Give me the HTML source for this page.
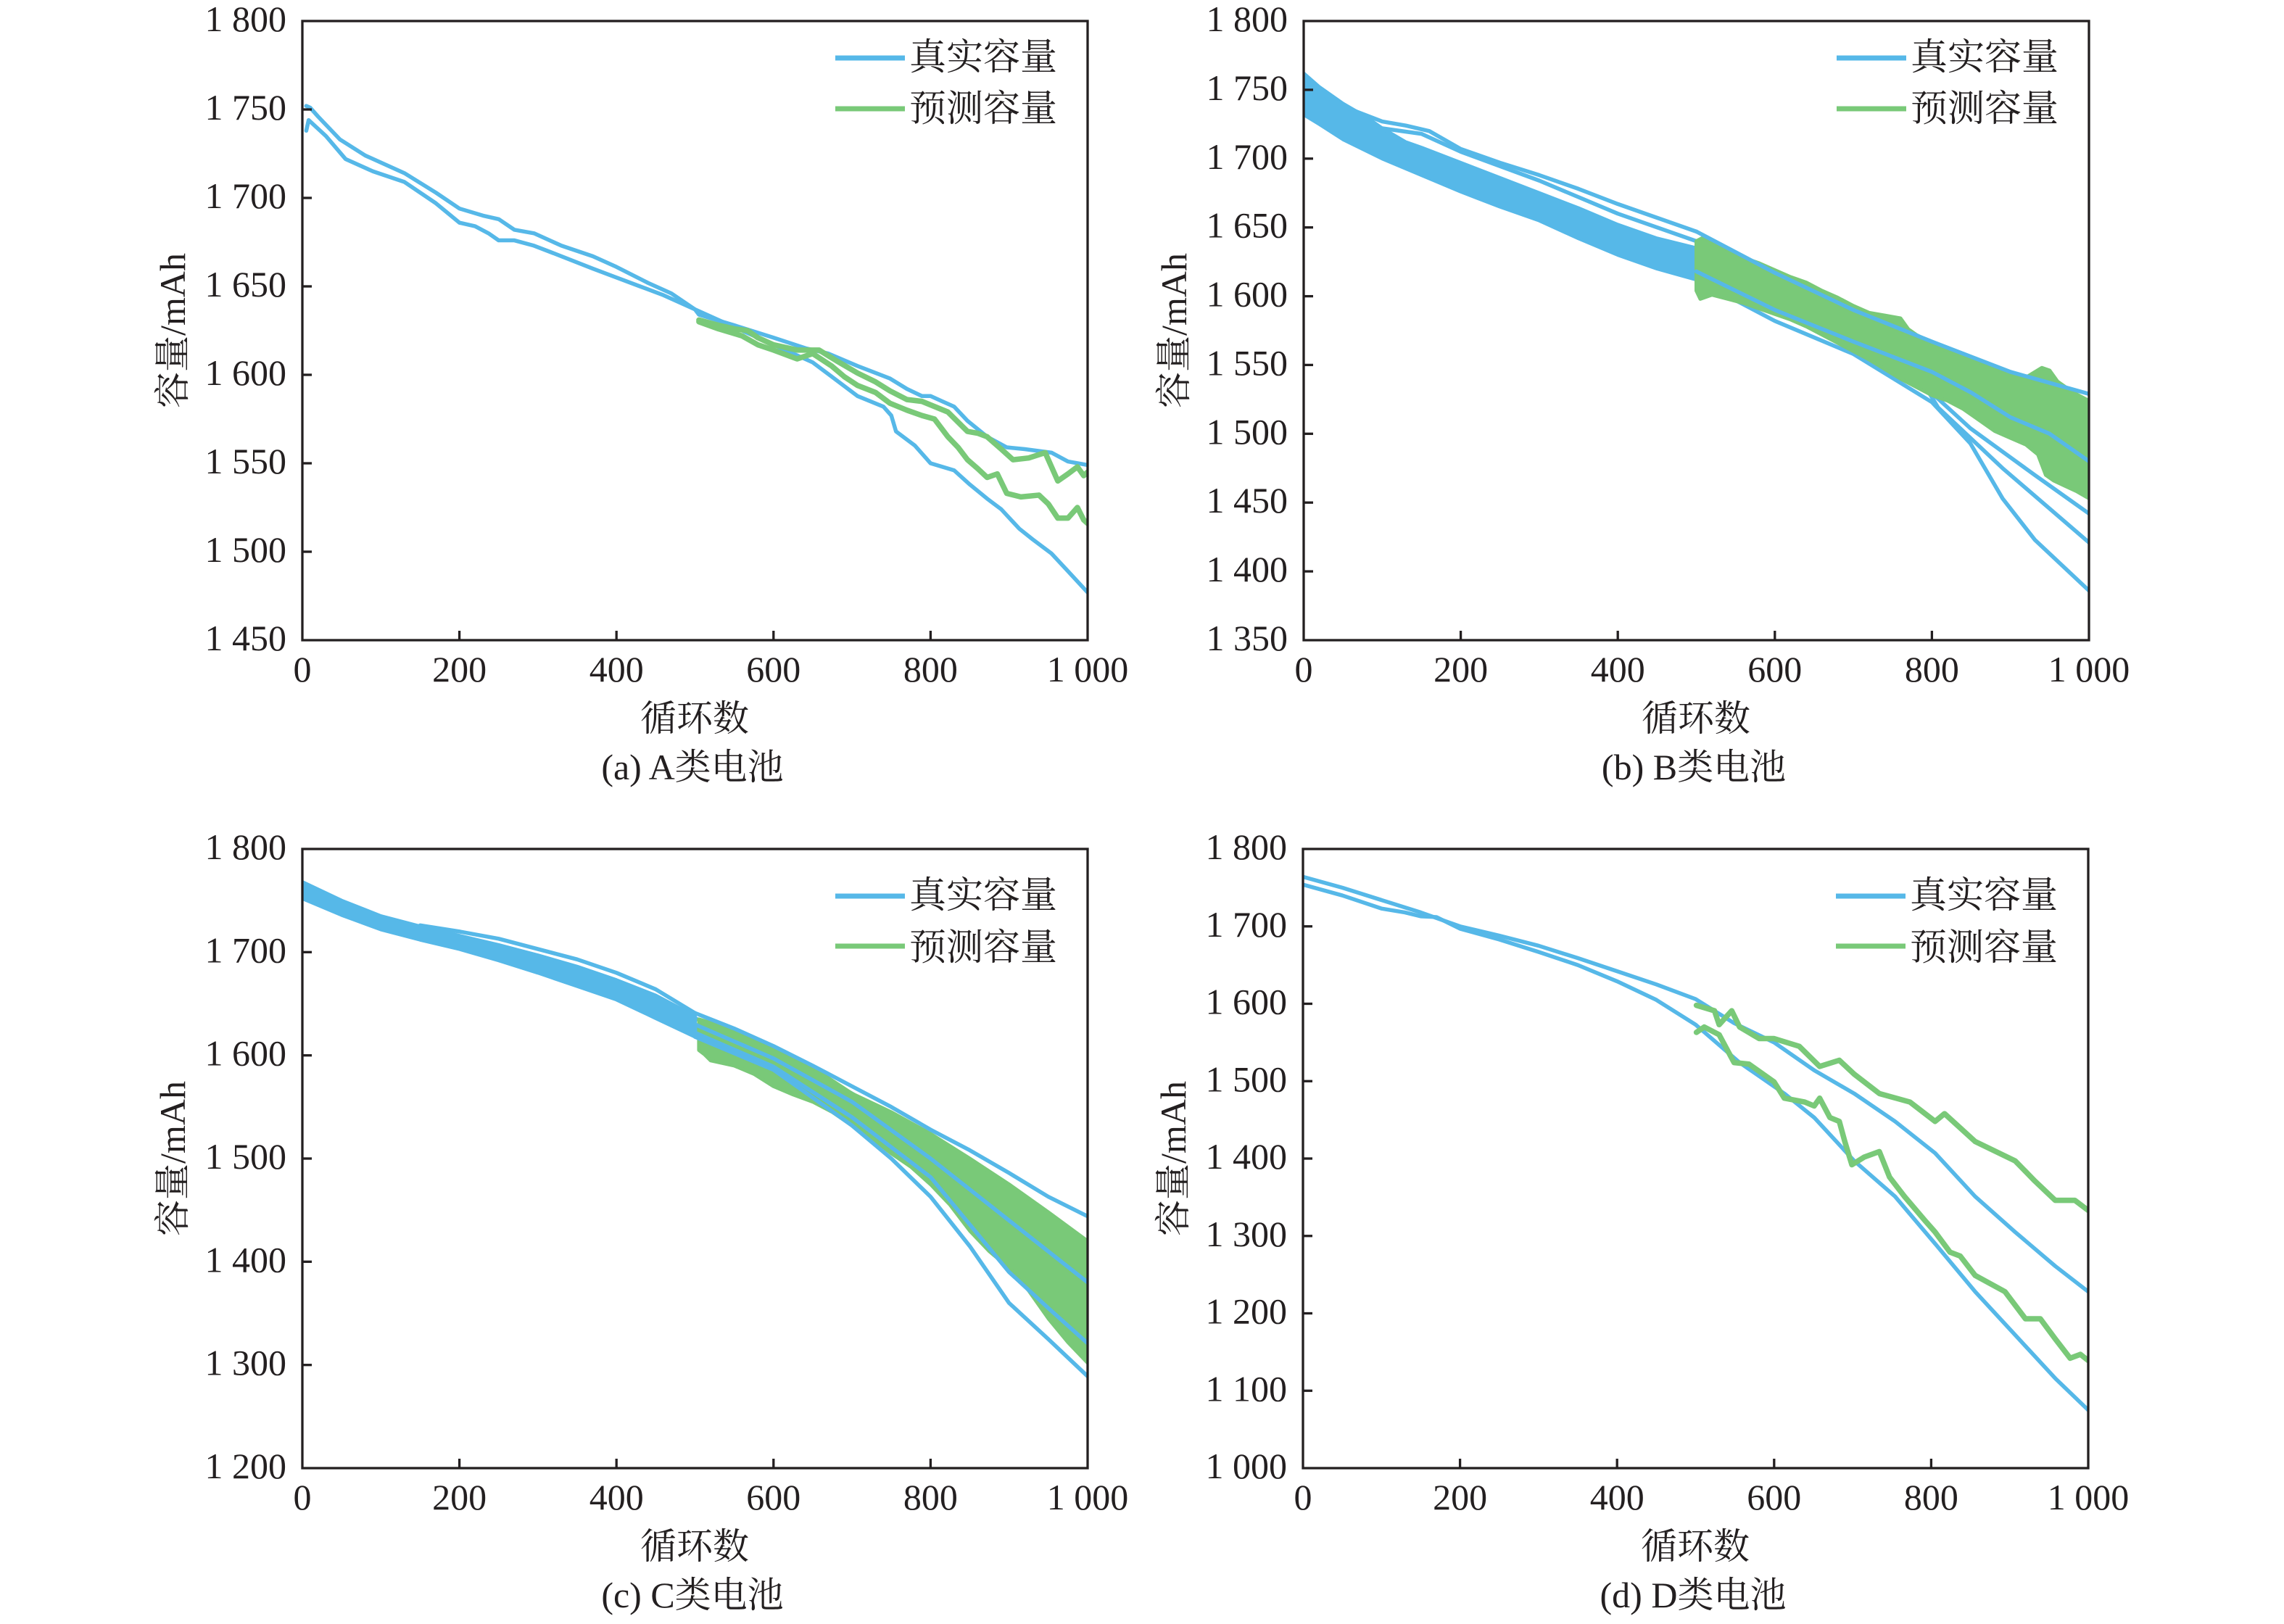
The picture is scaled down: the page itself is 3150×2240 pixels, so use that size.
<!DOCTYPE html>
<html><head><meta charset="utf-8"><style>
body{margin:0;background:#fff}
svg text{font-family:"Liberation Serif","Noto Serif CJK SC",serif;fill:#231f20}
.dat polyline,.dat polygon{vector-effect:non-scaling-stroke;stroke-linejoin:round;stroke-linecap:round}
.b{fill:none;stroke:#56b8e8;stroke-width:5.5}
.g{fill:none;stroke:#79c978;stroke-width:7.5}
.bf{fill:#56b8e8;stroke:#56b8e8;stroke-width:5}
.gf{fill:#79c978;stroke:#79c978;stroke-width:5}
.ax{fill:none;stroke:#231f20;stroke-width:3.3}
.tk{stroke:#231f20;stroke-width:3.3}
.tl{font-size:50px}
.cj{font-size:50px}
.lg{font-size:51px}
</style></head><body>
<svg xmlns="http://www.w3.org/2000/svg" width="3150" height="2235" viewBox="0 0 3150 2235">
<defs>
<clipPath id="cA"><rect x="417" y="29" width="1083" height="854"/></clipPath>
<clipPath id="cB"><rect x="1798" y="29" width="1083" height="854"/></clipPath>
<clipPath id="cC"><rect x="417" y="1171" width="1083" height="854"/></clipPath>
<clipPath id="cD"><rect x="1797" y="1171" width="1083" height="854"/></clipPath>
</defs>
<rect width="3150" height="2235" fill="#fff"/>

<!-- ================= PANEL A ================= -->
<g clip-path="url(#cA)"><g class="dat" transform="matrix(1.083 0 0 -2.44 417 4421)">
<polyline class="b" points="5,1752 10,1751 20,1746 48,1733 80,1724 130,1714 170,1703 200,1694 230,1690 250,1688 270,1682 295,1680 330,1673 370,1667 400,1661 440,1652 470,1646 500,1637 505,1634 550,1628 600,1621 641,1615 670,1612 707,1605 748,1598 770,1592 789,1588 800,1588 815,1585 830,1582 847,1574 872,1565 897,1559 920,1558 954,1556 975,1551 1000,1549"/>
<polyline class="b" points="5,1738 8,1744 30,1735 55,1722 90,1715 130,1709 170,1697 200,1686 220,1684 237,1680 250,1676 270,1676 295,1673 330,1667 370,1660 400,1655 430,1650 460,1645 500,1637 550,1627 600,1617 650,1607 707,1588 740,1582 750,1577 756,1568 780,1560 800,1550 830,1546 850,1538 872,1530 890,1524 913,1513 930,1507 954,1499 975,1489 1000,1477"/>
<polyline class="g" points="505,1631 530,1628 550,1626 567,1625 580,1621 600,1617 630,1614 658,1614 680,1608 707,1601 730,1596 748,1591 770,1586 789,1585 800,1583 822,1579 847,1568 860,1567 872,1565 890,1558 905,1552 925,1553 946,1556 962,1540 975,1544 987,1548 995,1543 1000,1545"/>
<polyline class="g" points="505,1630 530,1626 560,1622 580,1617 600,1614 630,1609 650,1612 674,1605 690,1599 707,1594 730,1590 748,1584 770,1580 789,1577 805,1575 822,1565 835,1559 847,1552 860,1547 872,1542 885,1544 897,1533 915,1531 938,1532 950,1527 962,1519 975,1519 987,1525 995,1518 1000,1516"/>
</g></g>
<rect class="ax" x="417" y="29" width="1083" height="854"/>
<g class="tk">
<line x1="417" y1="151" x2="430" y2="151"/><line x1="417" y1="273" x2="430" y2="273"/><line x1="417" y1="395" x2="430" y2="395"/><line x1="417" y1="517" x2="430" y2="517"/><line x1="417" y1="639" x2="430" y2="639"/><line x1="417" y1="761" x2="430" y2="761"/>
<line x1="633.6" y1="883" x2="633.6" y2="870"/><line x1="850.2" y1="883" x2="850.2" y2="870"/><line x1="1066.8" y1="883" x2="1066.8" y2="870"/><line x1="1283.4" y1="883" x2="1283.4" y2="870"/>
</g>
<g class="tl" text-anchor="end">
<text x="395" y="43">1 800</text><text x="395" y="165">1 750</text><text x="395" y="287">1 700</text><text x="395" y="409">1 650</text><text x="395" y="531">1 600</text><text x="395" y="653">1 550</text><text x="395" y="775">1 500</text><text x="395" y="897">1 450</text>
</g>
<g class="tl" text-anchor="middle">
<text x="417" y="940">0</text><text x="633.6" y="940">200</text><text x="850.2" y="940">400</text><text x="1066.8" y="940">600</text><text x="1283.4" y="940">800</text><text x="1500" y="940">1 000</text>
</g>
<text class="cj" x="958" y="1008" text-anchor="middle">循环数</text>
<text class="cj" x="955" y="1075" text-anchor="middle">(a) A类电池</text>
<text class="cj" transform="translate(238,456) rotate(-90)" text-anchor="middle" dominant-baseline="central">容量/mAh</text>
<line x1="1152" y1="80" x2="1248" y2="80" stroke="#56b8e8" stroke-width="7"/>
<line x1="1152" y1="150" x2="1248" y2="150" stroke="#79c978" stroke-width="7"/>
<text class="lg" x="1254" y="96">真实容量</text>
<text class="lg" x="1254" y="167">预测容量</text>

<!-- ================= PANEL B ================= -->
<g clip-path="url(#cB)"><g class="dat" transform="matrix(1.083 0 0 -1.89778 1798 3445)">
<polygon class="bf" points="0,1762 20,1752 50,1740 80,1730 100,1722 130,1712 150,1708 200,1697 250,1686 300,1675 350,1664 400,1652 450,1642 500,1635 500,1612 450,1620 400,1630 350,1642 300,1655 250,1665 200,1676 150,1688 100,1700 50,1714 20,1725 0,1732"/>
<polyline class="b" points="0,1755 50,1738 100,1727 130,1724 160,1720 200,1707 250,1697 300,1688 350,1678 400,1667 450,1657 500,1647"/>
<polyline class="b" points="100,1722 150,1718 200,1705 300,1684 400,1660 500,1640"/>
<polyline class="b" points="500,1632 600,1605 700,1580 800,1550 900,1515 1000,1490"/>
<polyline class="b" points="500,1625 600,1598 700,1572 780,1545 808,1519 890,1475 1000,1421"/>
<polyline class="b" points="500,1620 600,1592 700,1565 780,1540 849,1504 931,1470 1000,1442"/>
<polyline class="b" points="500,1612 600,1582 700,1558 780,1530 800,1523 849,1493 890,1453 931,1423 1000,1386"/>
<polygon class="gf" points="500,1640 510,1643 520,1638 540,1634 560,1628 580,1624 600,1619 620,1614 640,1610 660,1604 680,1599 700,1593 720,1588 740,1586 760,1584 770,1576 780,1572 800,1566 820,1560 840,1556 860,1552 880,1548 900,1543 920,1541 940,1548 950,1546 960,1538 980,1530 1000,1524 1000,1453 985,1458 970,1462 955,1466 945,1470 935,1485 920,1492 900,1497 880,1502 860,1510 840,1518 820,1524 800,1528 780,1534 760,1540 740,1547 720,1554 700,1560 680,1566 660,1572 640,1578 620,1583 600,1587 580,1591 560,1595 540,1598 520,1601 505,1598 500,1604"/>
<polyline class="b" points="500,1647 600,1617 700,1590 800,1567 900,1545 1000,1529"/>
<polyline class="b" points="500,1618 600,1590 700,1567 800,1545 850,1530 900,1512 950,1500 1000,1480"/>
</g></g>
<rect class="ax" x="1798" y="29" width="1083" height="854"/>
<g class="tk">
<line x1="1798" y1="123.9" x2="1811" y2="123.9"/><line x1="1798" y1="218.8" x2="1811" y2="218.8"/><line x1="1798" y1="313.7" x2="1811" y2="313.7"/><line x1="1798" y1="408.6" x2="1811" y2="408.6"/><line x1="1798" y1="503.4" x2="1811" y2="503.4"/><line x1="1798" y1="598.3" x2="1811" y2="598.3"/><line x1="1798" y1="693.2" x2="1811" y2="693.2"/><line x1="1798" y1="788.1" x2="1811" y2="788.1"/>
<line x1="2014.6" y1="883" x2="2014.6" y2="870"/><line x1="2231.2" y1="883" x2="2231.2" y2="870"/><line x1="2447.8" y1="883" x2="2447.8" y2="870"/><line x1="2664.4" y1="883" x2="2664.4" y2="870"/>
</g>
<g class="tl" text-anchor="end">
<text x="1776" y="43">1 800</text><text x="1776" y="137.9">1 750</text><text x="1776" y="232.8">1 700</text><text x="1776" y="327.7">1 650</text><text x="1776" y="422.6">1 600</text><text x="1776" y="517.4">1 550</text><text x="1776" y="612.3">1 500</text><text x="1776" y="707.2">1 450</text><text x="1776" y="802.1">1 400</text><text x="1776" y="897">1 350</text>
</g>
<g class="tl" text-anchor="middle">
<text x="1798" y="940">0</text><text x="2014.6" y="940">200</text><text x="2231.2" y="940">400</text><text x="2447.8" y="940">600</text><text x="2664.4" y="940">800</text><text x="2881" y="940">1 000</text>
</g>
<text class="cj" x="2339" y="1008" text-anchor="middle">循环数</text>
<text class="cj" x="2336" y="1075" text-anchor="middle">(b) B类电池</text>
<text class="cj" transform="translate(1619,456) rotate(-90)" text-anchor="middle" dominant-baseline="central">容量/mAh</text>
<line x1="2533" y1="80" x2="2629" y2="80" stroke="#56b8e8" stroke-width="7"/>
<line x1="2533" y1="150" x2="2629" y2="150" stroke="#79c978" stroke-width="7"/>
<text class="lg" x="2635" y="96">真实容量</text>
<text class="lg" x="2635" y="167">预测容量</text>

<!-- ================= PANEL C ================= -->
<g clip-path="url(#cC)"><g class="dat" transform="matrix(1.083 0 0 -1.42333 417 3733)">
<polygon class="bf" points="0,1768 50,1750 100,1735 150,1725 200,1716 250,1707 300,1697 350,1686 400,1673 450,1658 500,1638 500,1618 450,1636 400,1654 350,1667 300,1680 250,1692 200,1703 150,1712 100,1722 50,1736 0,1752"/>
<polyline class="b" points="150,1726 200,1720 250,1713 300,1703 350,1693 400,1680 450,1664 500,1641"/>
<polyline class="b" points="500,1626 600,1592 700,1548 800,1492 900,1425 1000,1356"/>
<polyline class="b" points="500,1636 600,1603 700,1563 800,1517 900,1471 950,1445 1000,1417"/>
<polygon class="gf" points="505,1635 550,1625 600,1609 650,1588 700,1563 750,1545 800,1524 850,1500 900,1475 950,1448 1000,1420 1000,1302 975,1322 950,1345 925,1372 900,1394 875,1410 850,1430 825,1455 800,1475 775,1492 750,1505 725,1520 700,1532 675,1545 650,1555 625,1562 600,1570 575,1582 550,1590 520,1595 512,1601 505,1605"/>
<polyline class="b" points="500,1641 550,1626 600,1609 650,1590 700,1570 750,1550 800,1528 850,1508 900,1486 950,1463 1000,1444"/>
<polyline class="b" points="500,1630 600,1597 700,1555 800,1500 900,1440 1000,1380"/>
<polyline class="b" points="500,1622 600,1589 700,1540 800,1482 900,1390 950,1355 1000,1321"/>
<polyline class="b" points="500,1618 600,1586 700,1532 750,1500 800,1463 850,1415 900,1360 950,1325 1000,1289"/>
</g></g>
<rect class="ax" x="417" y="1171" width="1083" height="854"/>
<g class="tk">
<line x1="417" y1="1313.3" x2="430" y2="1313.3"/><line x1="417" y1="1455.7" x2="430" y2="1455.7"/><line x1="417" y1="1598" x2="430" y2="1598"/><line x1="417" y1="1740.3" x2="430" y2="1740.3"/><line x1="417" y1="1882.7" x2="430" y2="1882.7"/>
<line x1="633.6" y1="2025" x2="633.6" y2="2012"/><line x1="850.2" y1="2025" x2="850.2" y2="2012"/><line x1="1066.8" y1="2025" x2="1066.8" y2="2012"/><line x1="1283.4" y1="2025" x2="1283.4" y2="2012"/>
</g>
<g class="tl" text-anchor="end">
<text x="395" y="1185">1 800</text><text x="395" y="1327.3">1 700</text><text x="395" y="1469.7">1 600</text><text x="395" y="1612">1 500</text><text x="395" y="1754.3">1 400</text><text x="395" y="1896.7">1 300</text><text x="395" y="2039">1 200</text>
</g>
<g class="tl" text-anchor="middle">
<text x="417" y="2082">0</text><text x="633.6" y="2082">200</text><text x="850.2" y="2082">400</text><text x="1066.8" y="2082">600</text><text x="1283.4" y="2082">800</text><text x="1500" y="2082">1 000</text>
</g>
<text class="cj" x="958" y="2150" text-anchor="middle">循环数</text>
<text class="cj" x="955" y="2217" text-anchor="middle">(c) C类电池</text>
<text class="cj" transform="translate(238,1598) rotate(-90)" text-anchor="middle" dominant-baseline="central">容量/mAh</text>
<line x1="1152" y1="1236" x2="1248" y2="1236" stroke="#56b8e8" stroke-width="7"/>
<line x1="1152" y1="1305" x2="1248" y2="1305" stroke="#79c978" stroke-width="7"/>
<text class="lg" x="1254" y="1252">真实容量</text>
<text class="lg" x="1254" y="1324">预测容量</text>

<!-- ================= PANEL D ================= -->
<g clip-path="url(#cD)"><g class="dat" transform="matrix(1.083 0 0 -1.0675 1797 3092.5)">
<polyline class="b" points="0,1764 50,1750 100,1734 150,1718 200,1700 250,1688 300,1675 350,1659 400,1642 450,1625 500,1606 549,1575 600,1550 651,1514 702,1484 754,1448 805,1407 856,1351 907,1305 958,1261 1000,1228"/>
<polyline class="b" points="0,1754 50,1740 100,1723 130,1718 150,1713 170,1712 200,1697 250,1683 300,1667 350,1650 400,1629 450,1605 500,1573 556,1524 613,1484 651,1453 702,1397 754,1351 805,1290 856,1228 907,1172 958,1116 1000,1075"/>
<polyline class="g" points="501,1598 524,1591 530,1573 546,1591 556,1570 581,1555 600,1555 632,1545 658,1519 683,1527 702,1509 734,1484 773,1473 805,1448 817,1458 856,1422 907,1397 932,1371 958,1346 983,1346 1000,1333"/>
<polyline class="g" points="501,1563 511,1570 530,1560 549,1524 568,1522 600,1499 613,1478 639,1473 651,1468 658,1478 671,1453 683,1448 690,1422 699,1392 715,1402 734,1409 747,1376 766,1351 792,1320 805,1305 824,1279 837,1274 856,1249 894,1228 920,1193 939,1193 958,1167 977,1142 990,1147 1000,1139"/>
</g></g>
<rect class="ax" x="1797" y="1171" width="1083" height="854"/>
<g class="tk">
<line x1="1797" y1="1277.75" x2="1810" y2="1277.75"/><line x1="1797" y1="1384.5" x2="1810" y2="1384.5"/><line x1="1797" y1="1491.25" x2="1810" y2="1491.25"/><line x1="1797" y1="1598" x2="1810" y2="1598"/><line x1="1797" y1="1704.75" x2="1810" y2="1704.75"/><line x1="1797" y1="1811.5" x2="1810" y2="1811.5"/><line x1="1797" y1="1918.25" x2="1810" y2="1918.25"/>
<line x1="2013.6" y1="2025" x2="2013.6" y2="2012"/><line x1="2230.2" y1="2025" x2="2230.2" y2="2012"/><line x1="2446.8" y1="2025" x2="2446.8" y2="2012"/><line x1="2663.4" y1="2025" x2="2663.4" y2="2012"/>
</g>
<g class="tl" text-anchor="end">
<text x="1775" y="1185">1 800</text><text x="1775" y="1291.75">1 700</text><text x="1775" y="1398.5">1 600</text><text x="1775" y="1505.25">1 500</text><text x="1775" y="1612">1 400</text><text x="1775" y="1718.75">1 300</text><text x="1775" y="1825.5">1 200</text><text x="1775" y="1932.25">1 100</text><text x="1775" y="2039">1 000</text>
</g>
<g class="tl" text-anchor="middle">
<text x="1797" y="2082">0</text><text x="2013.6" y="2082">200</text><text x="2230.2" y="2082">400</text><text x="2446.8" y="2082">600</text><text x="2663.4" y="2082">800</text><text x="2880" y="2082">1 000</text>
</g>
<text class="cj" x="2338" y="2150" text-anchor="middle">循环数</text>
<text class="cj" x="2335" y="2217" text-anchor="middle">(d) D类电池</text>
<text class="cj" transform="translate(1618,1598) rotate(-90)" text-anchor="middle" dominant-baseline="central">容量/mAh</text>
<line x1="2532" y1="1236" x2="2628" y2="1236" stroke="#56b8e8" stroke-width="7"/>
<line x1="2532" y1="1305" x2="2628" y2="1305" stroke="#79c978" stroke-width="7"/>
<text class="lg" x="2634" y="1252">真实容量</text>
<text class="lg" x="2634" y="1324">预测容量</text>
</svg>
</body></html>
